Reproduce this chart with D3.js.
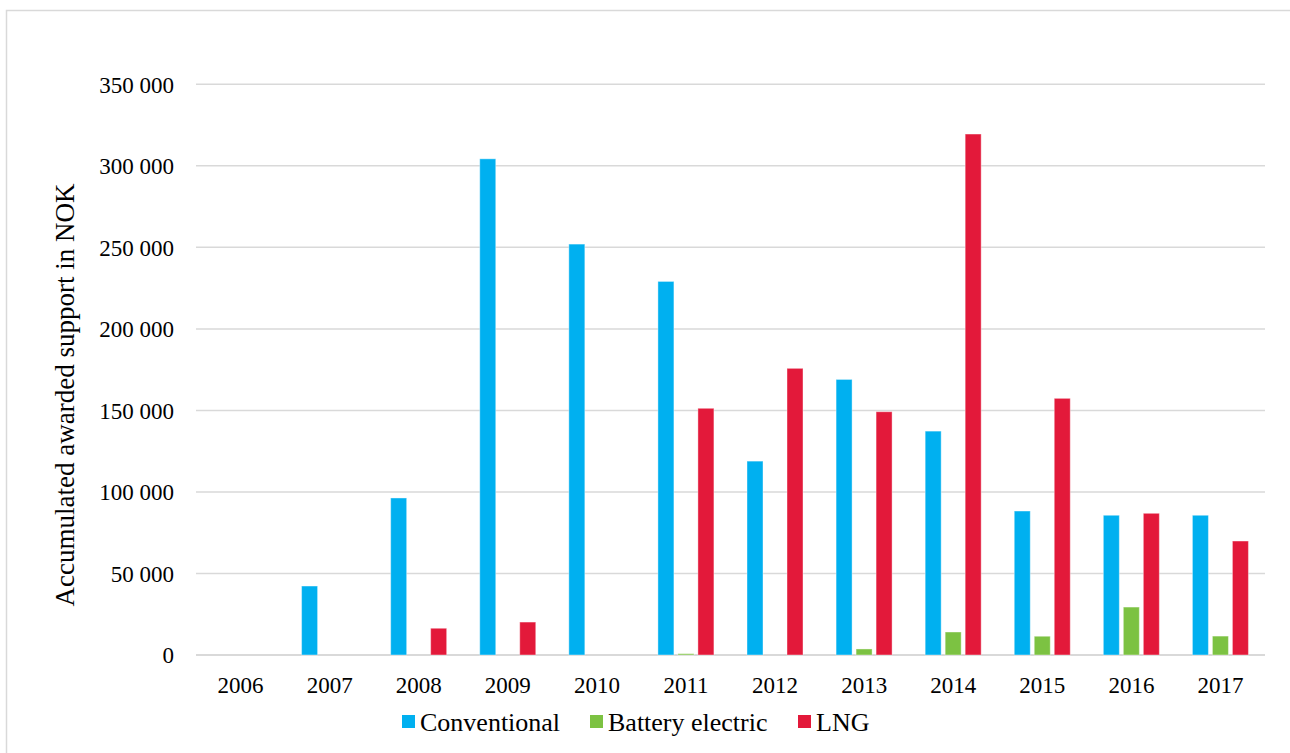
<!DOCTYPE html>
<html>
<head>
<meta charset="utf-8">
<script src="https://cdn.jsdelivr.net/npm/d3@7"></script>
<style>
  body { margin: 0; background: #fff; }
  svg { display: block; }
</style>
</head>
<body>
<div id="chart"></div>
<script>
var years = ["2006", "2007", "2008", "2009", "2010", "2011", "2012", "2013", "2014", "2015", "2016", "2017"];
var conventional = [0, 42300, 96300, 304300, 252000, 229100, 118900, 169000, 137300, 88300, 85700, 85700];
var battery_electric = [0, 0, 0, 0, 0, 800, 0, 3700, 14100, 11500, 29400, 11600];
var lng = [0, 0, 16400, 20200, 0, 151300, 175800, 149200, 319500, 157400, 86900, 69900];
var series_names = ["Conventional", "Battery electric", "LNG"];
var y_ticks = [0, 50000, 100000, 150000, 200000, 250000, 300000, 350000];

var w = 1290;
var h = 753;
var colors = d3.scaleOrdinal().domain(series_names).range(["#00b0f0", "#7cc242", "#e3193a"]);

var svg = d3.select("#chart").append("svg").attr("width", w).attr("height", h);

// outer chart border (runs off the right and bottom of the picture)
svg.append("rect")
    .attr("x", 6.5).attr("y", 10.5)
    .attr("width", w).attr("height", h)
    .attr("fill", "white")
    .attr("stroke", "#d9d9d9")
    .attr("stroke-width", 1.5);

var xScale = d3.scaleBand().domain(years).range([196, 1265]).padding(0);
var x1 = d3.scaleBand().domain(series_names).range([16.5, 72.5]).paddingInner(0.2);
var yScale = d3.scaleLinear().domain([0, 350000]).range([655, 84.3]);

var nok = d3.formatLocale({decimal: ",", thousands: " ", grouping: [3], currency: ["", ""]});
var fmt = nok.format(",d");

// gridlines
svg.append("g").selectAll("line")
    .data(y_ticks)
    .enter()
    .append("line")
    .attr("x1", 196).attr("x2", 1265)
    .attr("y1", function (d) { return yScale(d); })
    .attr("y2", function (d) { return yScale(d); })
    .attr("stroke", "#d9d9d9")
    .attr("stroke-width", function (d) { return d === 0 ? 2 : 1.5; });

// y axis labels
var yAxis = d3.axisLeft(yScale).tickValues(y_ticks).tickFormat(fmt).tickSize(0).tickPadding(0);
var gy = svg.append("g").attr("transform", "translate(174, 0)").call(yAxis);
gy.select(".domain").remove();
gy.selectAll("text")
    .attr("font-family", "'Liberation Serif', 'Times New Roman', serif")
    .attr("font-size", "23px")
    .attr("fill", "#000")
    .attr("dy", "0.34em");

// x axis labels
var xAxis = d3.axisBottom(xScale).tickSize(0).tickPadding(0);
var gx = svg.append("g").attr("transform", "translate(0, 676)").call(xAxis);
gx.select(".domain").remove();
gx.selectAll("text")
    .attr("font-family", "'Liberation Serif', 'Times New Roman', serif")
    .attr("font-size", "23px")
    .attr("fill", "#000")
    .attr("dy", "0.72em");

// rows of data per series
var table = [conventional, battery_electric, lng];
var groups = svg.selectAll("g.series")
    .data(series_names)
    .enter()
    .append("g")
    .attr("class", "series")
    .attr("fill", function (d) { return colors(d); });

groups.selectAll("rect")
    .data(function (d, i) {
        return table[i].map(function (v, j) { return {year: years[j], key: d, value: v}; });
    })
    .enter()
    .filter(function (d) { return d.value > 0; })
    .append("rect")
    .attr("x", function (d) { return xScale(d.year) + x1(d.key); })
    .attr("y", function (d) { return yScale(d.value); })
    .attr("width", x1.bandwidth())
    .attr("height", function (d) { return yScale(0) - yScale(d.value); })
    .attr("stroke", "#fff")
    .attr("stroke-opacity", 0.4)
    .attr("stroke-width", 1);

// y axis title
svg.append("text")
    .attr("transform", "translate(74, 395) rotate(-90)")
    .attr("text-anchor", "middle")
    .attr("font-family", "'Liberation Serif', 'Times New Roman', serif")
    .attr("font-size", "27px")
    .attr("fill", "#000")
    .text("Accumulated awarded support in NOK");

// legend
var legend_x = [402, 590, 798];
var legend = svg.selectAll(".legend")
    .data(series_names)
    .enter()
    .append("g")
    .attr("class", "legend")
    .attr("transform", function (d, i) { return "translate(" + legend_x[i] + ", 715)"; });

legend.append("rect")
    .attr("width", 13)
    .attr("height", 13)
    .attr("fill", function (d) { return colors(d); });

legend.append("text")
    .attr("x", 18)
    .attr("y", 16)
    .attr("font-family", "'Liberation Serif', 'Times New Roman', serif")
    .attr("font-size", "26px")
    .attr("fill", "#000")
    .text(function (d) { return d; });
</script>
</body>
</html>
